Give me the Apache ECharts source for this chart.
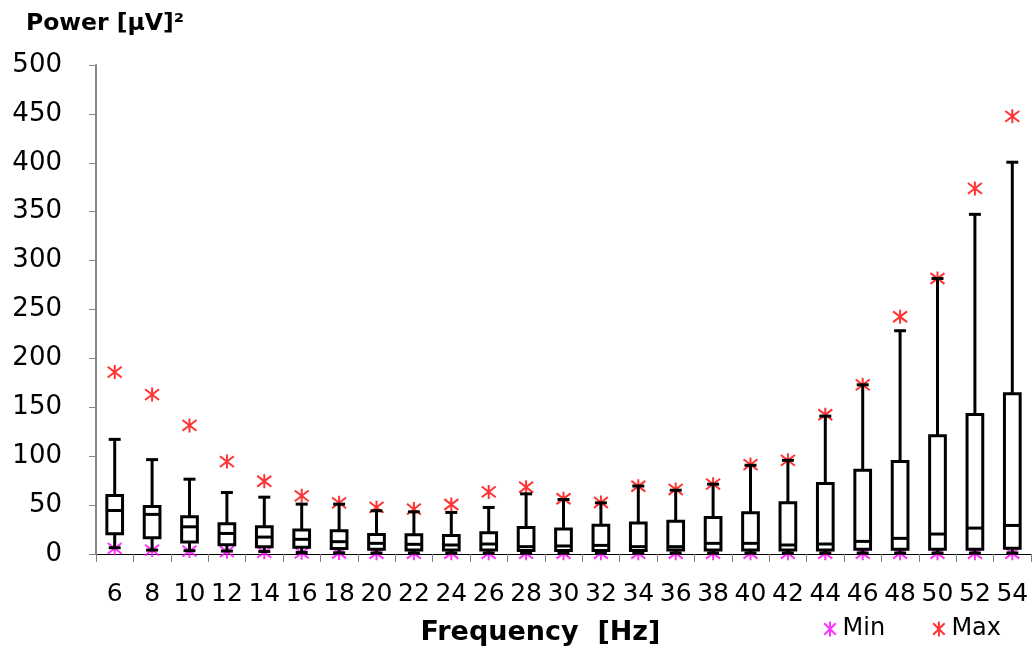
<!DOCTYPE html>
<html>
<head>
<meta charset="utf-8">
<script src="https://cdn.jsdelivr.net/npm/echarts@6/dist/echarts.min.js"></script>
<style>
html,body{margin:0;padding:0;background:#fff;}
#chart{width:1034px;height:652px;}
</style>
</head>
<body>
<div id="chart"></div>
<script>
// ---- data ----
var categories = ['6','8','10','12','14','16','18','20','22','24','26','28','30','32','34','36','38','40','42','44','46','48','50','52','54'];
var maxVals   = [186,163,131.5,94.5,74.4,59.5,52.3,47.6,45.9,50.6,63.5,68.3,56.5,52.7,69.3,66,71.4,91.4,95.8,142.4,173,242.6,281.7,373.8,447.5];
var minVals   = [5.8,4,3,2.4,1.7,1.2,1,0.8,0.8,0.8,0.8,0.8,0.8,0.8,0.8,0.8,0.8,0.8,0.8,0.8,0.8,0.8,0.8,0.8,0.8];
var whiskerHigh = [117.2,96.5,76.5,62.9,58.1,51,51,44.2,43.1,42.5,47.6,61.5,55.7,52.3,69.5,65.2,71.4,90.7,95.8,141,173,228.3,281.7,347.3,400.6];
var whiskerLow  = [6.4,4,3.4,3,2.5,1.5,1.2,1,1,1,1,1,1,1,1,1,1,1,1,1,1,1,1,1,1];
var q3Vals    = [59.8,48.6,38,30.9,27.8,24.5,23.8,20,19.7,19,21.7,27.2,25.5,29.4,31.6,33.5,37.4,42.1,52.3,72,85.6,94.5,121,142.7,163.8];
var medVals   = [44.5,40.5,27.8,21,17.3,15,12.6,10.9,9.9,9.2,10.2,7.5,8.2,8.8,7.5,7.5,10.9,10.9,9.2,10.2,12.9,16,20.4,26.5,29.2];
var q1Vals    = [20.7,16.6,12.2,9.5,7.5,6.8,5.5,4.8,4.1,4.1,4,3.5,3.5,3.5,3.5,4,4,4,4,4,4.8,4.8,4.8,4.8,5.8];
var yTicks    = [0,50,100,150,200,250,300,350,400,450,500];

var boxData = categories.map(function(c,i){
  return [i, whiskerLow[i], q1Vals[i], medVals[i], q3Vals[i], whiskerHigh[i]];
});

var starPath = 'path://M0,0L10,10M10,0L0,10M5,-1.5L5,11.5';

var chart = echarts.init(document.getElementById('chart'), null, {renderer:'canvas'});
chart.setOption({
  animation:false,
  backgroundColor:'#ffffff',
  title:{
    text:'Power [μV]²', left:21, top:7,
    textStyle:{fontFamily:'DejaVu Sans', fontWeight:'bold', fontSize:23.5, color:'#000'}
  },
  grid:{left:96, right:3, top:65, bottom:98, containLabel:false, outerBoundsMode:'none'},
  legend:{
    right:28, top:612, itemGap:47, itemWidth:15, itemHeight:15,
    data:[{name:'Min', icon:starPath, itemStyle:{color:'transparent', borderColor:'#FF00FF', borderWidth:2}},
          {name:'Max', icon:starPath, itemStyle:{color:'transparent', borderColor:'#FF0000', borderWidth:2}}],
    textStyle:{fontFamily:'DejaVu Sans', fontSize:24, color:'#000'}
  },
  xAxis:{
    type:'category', data:categories, boundaryGap:true,
    name:'Frequency  [Hz]', nameLocation:'middle', nameGap:65,
    nameTextStyle:{fontFamily:'DejaVu Sans', fontWeight:'bold', fontSize:27, color:'#000', padding:[0,46,0,0]},
    axisLine:{lineStyle:{color:'#000', width:1}},
    axisTick:{show:true, length:8, lineStyle:{color:'#808080'}},
    axisLabel:{fontFamily:'DejaVu Sans', fontSize:25, color:'#000', margin:28, interval:0}
  },
  yAxis:{
    type:'value', min:yTicks[0], max:yTicks[yTicks.length-1], interval:50,
    splitLine:{show:false},
    axisLine:{show:true, lineStyle:{color:'#868686', width:2}},
    axisTick:{show:true, length:7, lineStyle:{color:'#868686'}},
    axisLabel:{fontFamily:'DejaVu Sans', fontSize:26, color:'#000', margin:34}
  },
  series:[
    {
      name:'Min', type:'scatter', data:minVals, symbol:starPath, symbolSize:14, z:3,
      itemStyle:{color:'transparent', borderColor:'#FF00FF', borderWidth:2}
    },
    {
      name:'Max', type:'scatter', data:maxVals, symbol:starPath, symbolSize:14, z:3,
      itemStyle:{color:'transparent', borderColor:'#FF0000', borderWidth:2}
    },
    {
      name:'box', type:'custom', z:4,
      data:boxData,
      encode:{x:0, y:[1,2,3,4,5]},
      renderItem:function(params, api){
        var idx = api.value(0);
        var band = api.size([1,0])[0];
        var bw = band*0.42, cw = band*0.32;
        var pLow = api.coord([idx, api.value(1)]);
        var pQ1 = api.coord([idx, api.value(2)]);
        var pMed = api.coord([idx, api.value(3)]);
        var pQ3 = api.coord([idx, api.value(4)]);
        var pHigh = api.coord([idx, api.value(5)]);
        var x = pQ1[0];
        var st = {stroke:'#000', lineWidth:3, fill:null};
        return {type:'group', children:[
          {type:'line', shape:{x1:x,y1:pHigh[1],x2:x,y2:pQ3[1]}, style:st},
          {type:'line', shape:{x1:x-cw/2,y1:pHigh[1],x2:x+cw/2,y2:pHigh[1]}, style:st},
          {type:'line', shape:{x1:x,y1:pQ1[1],x2:x,y2:pLow[1]}, style:st},
          {type:'line', shape:{x1:x-cw/2,y1:pLow[1],x2:x+cw/2,y2:pLow[1]}, style:st},
          {type:'rect', shape:{x:x-bw/2, y:pQ3[1], width:bw, height:pQ1[1]-pQ3[1]}, style:{stroke:'#000', lineWidth:3, fill:'#fff'}},
          {type:'line', shape:{x1:x-bw/2,y1:pMed[1],x2:x+bw/2,y2:pMed[1]}, style:st}
        ]};
      }
    }
  ]
});
</script>
</body>
</html>
